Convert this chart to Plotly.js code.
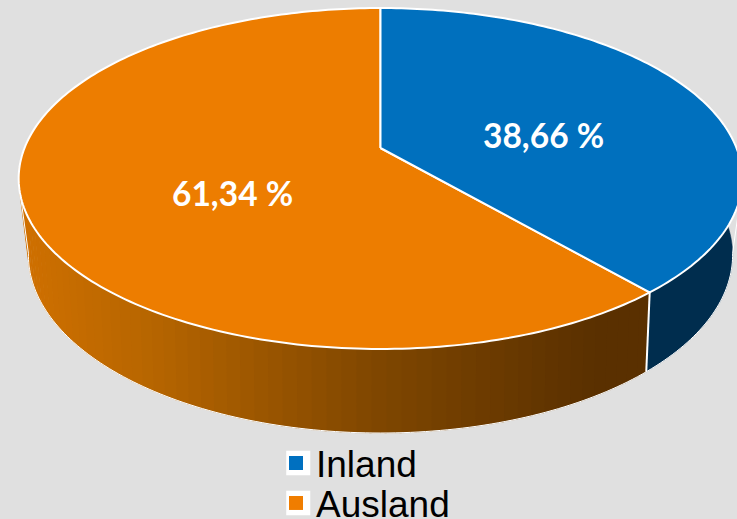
<!DOCTYPE html>
<html>
<head>
<meta charset="utf-8">
<script src="https://cdn.plot.ly/plotly-3.0.1.min.js"></script>
<style>html,body{margin:0;padding:0;background:#e0e0e0;overflow:hidden}</style>
</head>
<body>
<div id="chart" style="width:737px;height:519px"></div>
<script>
// --- data ---
const categories = ['Inland', 'Ausland'];
const shares = [38.66, 61.34];
const shareLabels = ['38,66 %', '61,34 %'];
// --- styling ---
const topColors = ['#0070BE', '#ED7D00'];
const legendColors = ['#0070C0', '#F07D00'];
const inlandSide = '#002D4E';
const shadeX = [20, 150, 380, 600, 660];
const shadeRGB = [[208,112,0],[184,102,0],[128,71,0],[90,48,0],[90,48,0]];

// projections of the tilted disc (top face, lower rim) into pixel-like axis units
const topRim = {cx:380.5, cy:148, bx:356, ay:165, k:0.179};
const lowRim = {cx:380.5, cy:219.4, bx:345, ay:170.9, k:0.2};
function project(p, deg){
  const t = deg*Math.PI/180, x = Math.sin(t), y = Math.cos(t), w = 1+p.k*y;
  return [p.cx + p.bx*x/w, p.cy - p.ay*y/w];
}
function arc(p, a, b){
  const n = Math.max(2, Math.ceil(Math.abs(b-a))), out = [];
  for(let i=0;i<=n;i++) out.push(project(p, a+(b-a)*i/n));
  return out;
}
function shade(x){
  let i = 0;
  while(i < shadeX.length-2 && x > shadeX[i+1]) i++;
  const f = Math.min(1, Math.max(0, (x-shadeX[i])/(shadeX[i+1]-shadeX[i])));
  const c = shadeRGB[i].map((v,j)=>Math.round(v+(shadeRGB[i+1][j]-v)*f));
  return 'rgb('+c.join(',')+')';
}
const total = shares.reduce((a,b)=>a+b,0);
const split = 360*shares[0]/total;   // boundary between the slices, clockwise from the top

const traces = [];
function poly(pts, fill, line, width){
  traces.push({type:'scatter', mode: width>0?'lines':'none', x:pts.map(p=>p[0]), y:pts.map(p=>p[1]),
    fill:'toself', fillcolor:fill, line:{color:line, width:width, simplify:false},
    hoverinfo:'skip', showlegend:false});
}
// Inland side wall
poly(arc(topRim,60,split).concat(arc(lowRim,split,60)), inlandSide, inlandSide, 0.5);
// Ausland side wall: narrow strips shaded by horizontal position
const stripStep = 2;
for(let a=split; a<300; a+=stripStep){
  const b = Math.min(a+stripStep+0.3, 300);
  const pts = arc(topRim,a,b).concat(arc(lowRim,b,a));
  const col = shade((pts[0][0]+pts[pts.length-1][0])/2);
  poly(pts, col, col, 0.5);
}
// white outline of the wall
const outline = [project(topRim,254)].concat(arc(lowRim,259,101),[project(topRim,103)]);
traces.push({type:'scatter',mode:'lines',x:outline.map(p=>p[0]),y:outline.map(p=>p[1]),
  line:{color:'#ffffff',width:1,simplify:false},hoverinfo:'skip',showlegend:false});
const edge = [project(topRim,split), project(lowRim,split)];
traces.push({type:'scatter',mode:'lines',x:edge.map(p=>p[0]),y:edge.map(p=>p[1]),
  line:{color:'#ffffff',width:2},hoverinfo:'skip',showlegend:false});
// top face
const apex = [topRim.cx, topRim.cy];
poly([apex].concat(arc(topRim,split,360),[apex]), topColors[1], '#ffffff', 2);
poly([apex].concat(arc(topRim,0,split),[apex]), topColors[0], '#ffffff', 2);
// legend entries
categories.forEach((c,i)=>{
  traces.push({type:'scatter',mode:'markers',x:[null],y:[null],name:c,
    marker:{symbol:'square',size:14,color:legendColors[i]},
    legend:i===0?'legend':'legend2',showlegend:true,hoverinfo:'skip'});
});

const legendBase = {xanchor:'left',yanchor:'middle',bgcolor:'rgba(0,0,0,0)',borderwidth:0,
  font:{family:'"Liberation Sans",Arial,sans-serif',size:37,color:'#000000'},itemclick:false,itemdoubleclick:false};
const box = (x0,y0,x1,y1)=>({type:'rect',xref:'x',yref:'y',x0,y0,x1,y1,layer:'above',
  fillcolor:'#ffffff',line:{color:'#ffffff',width:1.5}});

const layout = {
  width:737,height:519,
  paper_bgcolor:'#e0e0e0',plot_bgcolor:'#e0e0e0',
  margin:{l:0,r:0,t:0,b:0,pad:0,autoexpand:false},
  xaxis:{range:[0,737],visible:false,fixedrange:true},
  yaxis:{range:[519,0],visible:false,fixedrange:true},
  legend:Object.assign({x:276/737,y:1-463.4/519},legendBase),
  legend2:Object.assign({x:276/737,y:1-503.4/519},legendBase),
  shapes:[box(287,451.5,309.5,474.5),box(287,491.5,309.5,514.5)],
  annotations:[[543.5,135],[232.5,193]].map((p,i)=>({x:p[0],y:p[1],xref:'x',yref:'y',text:'<b>'+shareLabels[i]+'</b>',
    showarrow:false,font:{family:'Lato,Carlito,sans-serif',size:33.5,color:'#ffffff'}}))
};
Plotly.newPlot('chart',traces,layout,{displayModeBar:false,staticPlot:true});
</script>
</body>
</html>
